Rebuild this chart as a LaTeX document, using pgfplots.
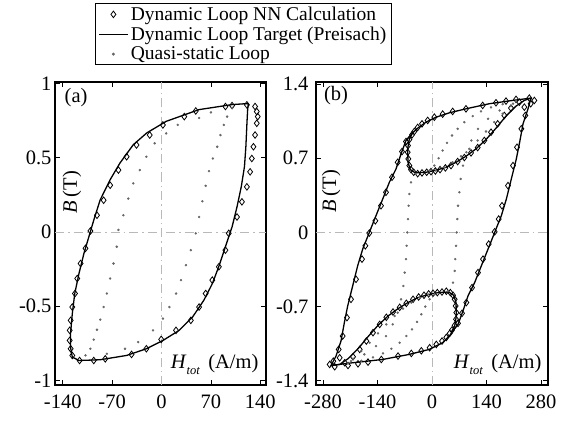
\documentclass[border=0pt]{standalone}
\usepackage{fontspec}
\setmainfont{Liberation Serif}
\usepackage{pgfplots}
\pgfplotsset{compat=1.18}
\newcommand{\fs}{\fontsize{20.5}{24}\selectfont}
\newcommand{\fl}{\fontsize{19.5}{23}\selectfont}
\pgfplotsset{
  mypanel/.style={
    scale only axis, height=303pt,
    axis line style={line width=1.1pt},
    tick align=inside, major tick length=5pt,
    every tick/.style={black, line width=0.9pt},
    tick label style={font=\fs},
    xticklabel style={yshift=-6pt},
    extra x ticks={0}, extra y ticks={0},
    extra x tick labels={}, extra y tick labels={},
    extra tick style={grid=major, major tick length=0pt,
      major grid style={gray!55, line width=0.9pt, dash pattern=on 9pt off 4pt on 1.5pt off 4pt}},
    legend image code/.code={\draw[mark repeat=2,mark phase=2,##1] plot coordinates {(0cm,0cm) (0.5cm,0cm) (1cm,0cm)};},
  },
  nn/.style={only marks, mark=diamond, mark size=3.3pt, black, mark options={black, line width=0.8pt, fill=none}},
  tgt/.style={black, line width=1.3pt, no marks},
  qs/.style={only marks, mark=*, mark size=1pt, black!60, mark options={draw=none, fill=black!60}},
}
\begin{document}
\begin{tikzpicture}[x=1pt,y=1pt]
\useasboundingbox (0,0) rectangle (570,421);
% ---------------- panel (a)
\begin{axis}[mypanel, at={(55pt,36pt)}, anchor=south west, width=211pt,
  xmin=-151, xmax=148, ymin=-1.03, ymax=1.01,
  xtick={-140,-70,0,70,140}, xticklabels={-140,-70,0,70,140},
  ytick={-1,-0.5,0,0.5,1}, yticklabels={-1,-0.5,0,0.5,1},
  legend style={at={(0.19,1.261)}, anchor=north west, draw=black, line width=0.9pt,
    font=\fl, inner xsep=3pt, inner ysep=1pt, row sep=0pt, nodes={inner sep=2.5pt}},
  legend cell align=left]
\addplot[nn] coordinates {(120.9,0.856)(99.9,0.851)(90.5,0.845)(48.5,0.815)(32.2,0.777)(1.9,0.721)(-16.8,0.653)(-35.5,0.586)(-49.5,0.507)(-61.1,0.417)(-72.8,0.315)(-82.1,0.214)(-91.5,0.113)(-100.8,0.007)(-107.8,-0.110)(-114.8,-0.212)(-119.5,-0.313)(-122.7,-0.414)(-126.5,-0.505)(-128.8,-0.595)(-130.2,-0.662)(-130.2,-0.730)(-128.8,-0.786)(-126.5,-0.831)(-116.2,-0.865)(-96.1,-0.865)(-79.8,-0.854)(-42.5,-0.824)(-21.5,-0.786)(-0.5,-0.723)(20.5,-0.662)(41.5,-0.595)(53.2,-0.505)(62.5,-0.414)(71.9,-0.324)(81.2,-0.234)(90.5,-0.122)(95.2,-0.009)(106.9,0.101)(113.9,0.203)(120.9,0.304)(125.5,0.405)(127.9,0.495)(130.2,0.574)(132.5,0.653)(134.9,0.732)(136.3,0.777)(134.9,0.811)(132.5,0.845)};
\addlegendentry{Dynamic Loop NN Calculation}
\addplot[tgt] coordinates {(123,0.865)(100,0.858)(53,0.824)(6.5,0.745)(-21,0.667)(-40,0.588)(-59,0.464)(-73,0.351)(-87,0.216)(-96,0.081)(-103,-0.032)(-110,-0.144)(-117,-0.279)(-123,-0.414)(-126.5,-0.55)(-129,-0.685)(-129,-0.775)(-126.5,-0.842)(-117,-0.865)(-87,-0.860)(-49.5,-0.831)(-21.5,-0.786)(2,-0.730)(25,-0.662)(44,-0.572)(60,-0.459)(72,-0.347)(81,-0.234)(90.5,-0.099)(100,0.036)(107,0.171)(113,0.306)(117.5,0.441)(119.5,0.577)(121,0.734)(122,0.824)(123,0.865)};
\addlegendentry{Dynamic Loop Target (Preisach)}
\addplot[qs] coordinates {(100,0.836)(70,0.805)(53.2,0.768)(22.9,0.721)(6.5,0.664)(-9.8,0.597)(-21.5,0.507)(-30.8,0.417)(-40.1,0.327)(-47.1,0.225)(-54.1,0.113)(-61.1,0.014)(-63.5,-0.099)(-68.1,-0.212)(-72.8,-0.313)(-77.5,-0.414)(-82.1,-0.505)(-86.8,-0.590)(-91.5,-0.658)(-96.1,-0.725)(-100.8,-0.786)(-107.8,-0.831)(-77.5,-0.82)(-51.8,-0.786)(-33.1,-0.741)(-12.1,-0.662)(1.9,-0.583)(11.2,-0.505)(20.5,-0.414)(27.5,-0.324)(34.5,-0.223)(41.5,-0.122)(48.5,-0.009)(53.2,0.101)(57.9,0.207)(62.5,0.311)(67.2,0.410)(72.8,0.495)(78.9,0.574)(83.5,0.653)(88.2,0.721)(92.9,0.777)};
\addlegendentry{Quasi-static Loop}
\node[font=\fs] at (rel axis cs:0.10,0.95) {(a)};
\node[font=\fs, rotate=90] at (rel axis cs:0.08,0.637) {\textit{B}\,(T)};
\node[font=\fs, anchor=base east] at (rel axis cs:0.981,0.053) {\textit{H}\raisebox{-6pt}{\fontsize{12.5}{15}\selectfont\textit{tot}}\hspace{0.4em}(A/m)};
\end{axis}
% ---------------- panel (b)
\begin{axis}[mypanel, at={(316pt,36pt)}, anchor=south west, width=232pt,
  xmin=-298, xmax=298, ymin=-1.44, ymax=1.42,
  xtick={-280,-140,0,140,280}, xticklabels={-280,-140,0,140,280},
  ytick={-1.4,-0.7,0,0.7,1.4}, yticklabels={-1.4,-0.7,0,0.7,1.4},
  yticklabel style={xshift=-4pt}]
\addplot[tgt] coordinates {(254.3,1.268)(207.2,1.246)(147.3,1.215)(87.3,1.167)(44.5,1.129)(10.3,1.088)(-15.4,1.041)(-36.8,0.984)(-49.7,0.940)(-66.8,0.868)(-79.6,0.741)(-92.5,0.599)(-109.6,0.473)(-126.7,0.315)(-143.9,0.158)(-161,0)(-178.1,-0.158)(-191,-0.315)(-203.8,-0.505)(-216.6,-0.694)(-225.2,-0.852)(-233.8,-1.025)(-246.6,-1.167)(-259.5,-1.256)(-203.8,-1.230)(-126.7,-1.199)(-58.2,-1.151)(-6.9,-1.104)(27.4,-1.041)(44.5,-0.978)(53.1,-0.931)(66.8,-0.868)(79.6,-0.741)(92.5,-0.599)(109.6,-0.473)(126.7,-0.315)(143.9,-0.158)(161,0)(178.1,0.158)(191,0.315)(203.8,0.505)(216.6,0.694)(225.2,0.852)(233.8,1.025)(246.6,1.167)(254.3,1.268)};
\addplot[tgt] coordinates {(-49.7,0.940)(-58.2,0.883)(-62.5,0.789)(-61.7,0.662)(-55.7,0.593)(-42.8,0.562)(-15.4,0.568)(10.3,0.587)(36,0.615)(61.7,0.662)(87.3,0.719)(113,0.789)(138.7,0.877)(164.4,0.984)(190.1,1.098)(215.8,1.192)(237.2,1.246)(254.3,1.268)};
\addplot[tgt] coordinates {(49.7,-0.940)(58.2,-0.883)(62.5,-0.789)(61.7,-0.662)(55.7,-0.593)(42.8,-0.562)(15.4,-0.568)(-10.3,-0.587)(-36,-0.615)(-61.7,-0.662)(-87.3,-0.719)(-113,-0.789)(-138.7,-0.877)(-164.4,-0.984)(-190.1,-1.098)(-215.8,-1.192)(-237.2,-1.246)(-259.5,-1.256)};
\addplot[nn] coordinates {(250,1.268)(262.9,1.246)(237.2,1.183)(215.8,1.256)(190.1,1.240)(164.4,1.224)(130.2,1.199)(87.3,1.167)(53.1,1.142)(27.4,1.117)(6,1.088)(-11.1,1.057)(-25.7,1.025)(-36.8,0.991)(-45.4,0.953)(-51.4,0.921)
(-58.2,0.877)(-61.7,0.820)(-62.5,0.757)(-60.8,0.694)(-58.2,0.631)(-53.9,0.593)(-47.1,0.568)(-36.8,0.555)(-25.7,0.562)(-13.7,0.568)(-2.6,0.574)(8.6,0.580)(20.6,0.593)(34.3,0.609)(48.8,0.631)(65.9,0.669)(83.1,0.707)(100.2,0.751)(117.3,0.801)(134.4,0.868)(151.6,0.946)(168.7,1.025)(185.8,1.104)(202.9,1.174)(224.3,1.230)
(-66.8,0.858)(-77.1,0.763)(-88.2,0.662)(-102.8,0.521)(-118.2,0.379)(-131,0.252)(-145.6,0.110)(-161,-0.006)(-171.3,-0.126)(-179.8,-0.252)(-195.2,-0.442)(-208.1,-0.631)(-218.4,-0.804)(-229.5,-0.978)(-239.8,-1.104)(-253.5,-1.215)
(-250,-1.268)(-262.9,-1.246)(-237.2,-1.183)(-215.8,-1.256)(-190.1,-1.240)(-164.4,-1.224)(-130.2,-1.199)(-87.3,-1.167)(-53.1,-1.142)(-27.4,-1.117)(-6,-1.088)(11.1,-1.057)(25.7,-1.025)(36.8,-0.991)(45.4,-0.953)(51.4,-0.921)
(58.2,-0.877)(61.7,-0.820)(62.5,-0.757)(60.8,-0.694)(58.2,-0.631)(53.9,-0.593)(47.1,-0.568)(36.8,-0.555)(25.7,-0.562)(13.7,-0.568)(2.6,-0.574)(-8.6,-0.580)(-20.6,-0.593)(-34.3,-0.609)(-48.8,-0.631)(-65.9,-0.669)(-83.1,-0.707)(-100.2,-0.751)(-117.3,-0.801)(-134.4,-0.868)(-151.6,-0.946)(-168.7,-1.025)(-185.8,-1.104)(-202.9,-1.174)(-224.3,-1.230)
(66.8,-0.858)(77.1,-0.763)(88.2,-0.662)(102.8,-0.521)(118.2,-0.379)(131,-0.252)(145.6,-0.110)(161,0.006)(171.3,0.126)(179.8,0.252)(195.2,0.442)(208.1,0.631)(218.4,0.804)(229.5,0.978)(239.8,1.104)(253.5,1.215)};
\addplot[qs] coordinates {(215.8,1.237)(181.5,1.211)(151.6,1.180)(125.9,1.142)(104.5,1.098)(83.1,1.041)(65.9,0.978)(51.4,0.915)(38.5,0.845)(27.4,0.773)(17.1,0.700)(6,0.631)(-6.9,0.584)
(10.3,0.584)(31.7,0.615)(53.1,0.662)(74.5,0.719)(95.9,0.789)(117.3,0.868)(138.7,0.953)(160.1,1.041)(181.5,1.120)(202.9,1.192)
(-41.1,0.552)(-53.9,0.473)(-58.2,0.363)(-59.9,0.252)(-61.7,0.126)(-63.4,0)(-65.1,-0.126)(-66.8,-0.252)(-70.2,-0.379)(-73.6,-0.505)(-79.6,-0.631)(-88.2,-0.757)(-101,-0.868)(-118.2,-0.978)(-143.9,-1.073)(-173.8,-1.151)(-208.1,-1.215)
(-215.8,-1.237)(-181.5,-1.211)(-151.6,-1.180)(-125.9,-1.142)(-104.5,-1.098)(-83.1,-1.041)(-65.9,-0.978)(-51.4,-0.915)(-38.5,-0.845)(-27.4,-0.773)(-17.1,-0.700)(-6,-0.631)(6.9,-0.584)
(-10.3,-0.584)(-31.7,-0.615)(-53.1,-0.662)(-74.5,-0.719)(-95.9,-0.789)(-117.3,-0.868)(-138.7,-0.953)(-160.1,-1.041)(-181.5,-1.120)(-202.9,-1.192)
(41.1,-0.552)(53.9,-0.473)(58.2,-0.363)(59.9,-0.252)(61.7,-0.126)(63.4,0)(65.1,0.126)(66.8,0.252)(70.2,0.379)(73.6,0.505)(79.6,0.631)(88.2,0.757)(101,0.868)(118.2,0.978)(143.9,1.073)(173.8,1.151)(208.1,1.215)};
\node[font=\fs] at (rel axis cs:0.086,0.954) {(b)};
\node[font=\fs, rotate=90] at (rel axis cs:0.065,0.640) {\textit{B}\,(T)};
\node[font=\fs, anchor=base east] at (rel axis cs:0.987,0.053) {\textit{H}\raisebox{-6pt}{\fontsize{12.5}{15}\selectfont\textit{tot}}\hspace{0.4em}(A/m)};
\end{axis}
\end{tikzpicture}
\end{document}
